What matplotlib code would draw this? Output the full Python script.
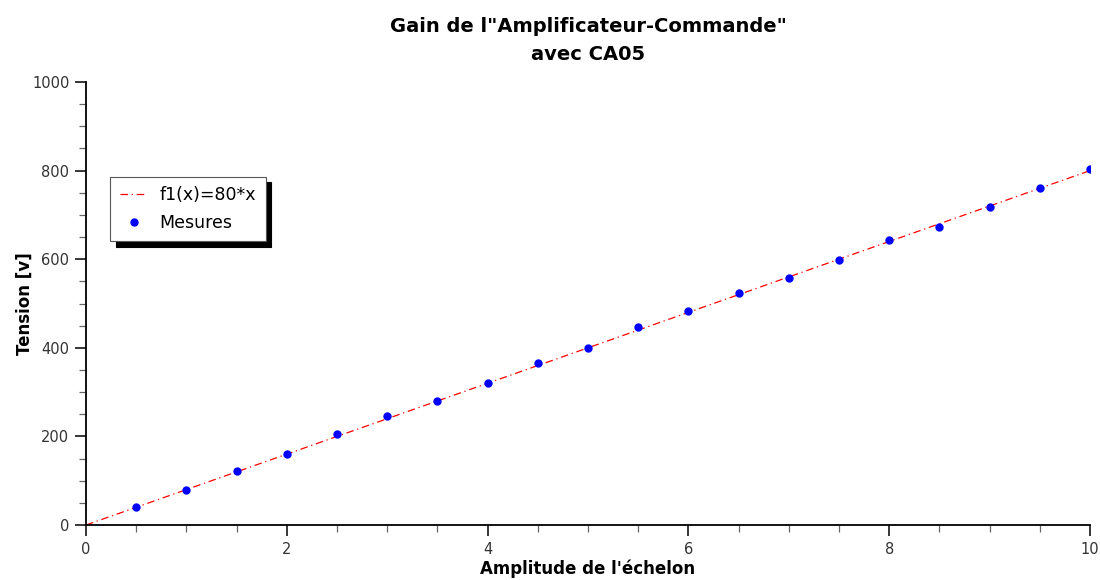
# coding: utf-8
""" gain de l'amplificateur-commande avec CA05 """
import matplotlib
matplotlib.use("Agg")
import matplotlib.pyplot as plt
from matplotlib.ticker import MultipleLocator

# mesures
amplitude = [0.5, 1.0, 1.5, 2.0, 2.5, 3.0, 3.5, 4.0, 4.5, 5.0,
             5.5, 6.0, 6.5, 7.0, 7.5, 8.0, 8.5, 9.0, 9.5, 10.0]
tension = [40, 79, 122, 161, 205, 246, 281, 320, 366, 400,
           446, 483, 523, 558, 598, 644, 673, 717, 760, 804]

# droite f1(x)=80*x
fit_x = [0, 10]
fit_y = [0, 800]


def main():
    fig = plt.figure(figsize=(11, 5.8), dpi=100)
    ax = fig.add_axes([0.0782, 0.0948, 0.9127, 0.7638])

    ax.plot(fit_x, fit_y, color="red", linestyle=(0, (6, 3, 1, 3)),
            linewidth=0.9, label="f1(x)=80*x")
    ax.plot(amplitude, tension, linestyle="none", marker="o", markersize=5,
            color="blue", label="Mesures")

    ax.set_xlim(0, 10)
    ax.set_ylim(0, 1000)
    ax.xaxis.set_major_locator(MultipleLocator(2))
    ax.xaxis.set_minor_locator(MultipleLocator(0.5))
    ax.yaxis.set_major_locator(MultipleLocator(200))
    ax.yaxis.set_minor_locator(MultipleLocator(50))

    for side in ("top", "right"):
        ax.spines[side].set_visible(False)
    for side in ("left", "bottom"):
        ax.spines[side].set_linewidth(1.3)

    ax.tick_params(which="major", length=8, width=1.1, direction="out",
                   labelsize=10.5, labelcolor="#333333", pad=4)
    ax.tick_params(which="minor", length=5, width=0.9, direction="out",
                   color="#666666")
    ax.tick_params(axis="x", which="major", pad=4)

    ax.set_xlabel("Amplitude de l'échelon", fontsize=12, fontweight="bold",
                  labelpad=2)
    ax.set_ylabel("Tension [v]", fontsize=12, fontweight="bold", labelpad=-1)
    ax.set_title("Gain de l\"Amplificateur-Commande\"\navec CA05",
                 fontsize=14, fontweight="bold", pad=16, linespacing=1.6)

    leg = ax.legend(loc="upper left", bbox_to_anchor=(0.024, 0.786),
                    borderaxespad=0, fancybox=False, fontsize=12.5,
                    handlelength=1.6, handletextpad=0.7, borderpad=0.55,
                    labelspacing=0.55,
                    shadow={"ox": 4, "oy": -4, "facecolor": "black",
                            "edgecolor": "black", "alpha": 1})
    leg.get_frame().set_edgecolor("#555555")
    leg.get_frame().set_linewidth(0.8)

    fig.savefig("out.png", dpi=100)


if __name__ == "__main__":
    main()
